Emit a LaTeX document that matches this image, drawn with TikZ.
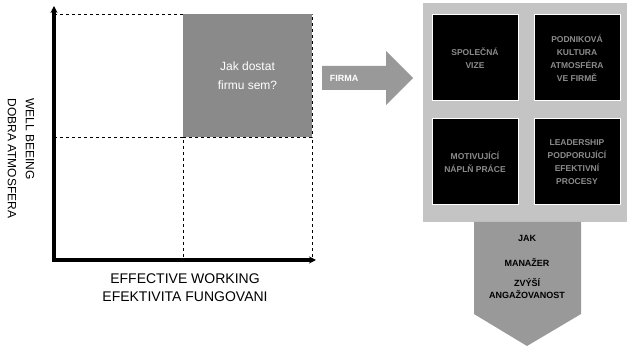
\documentclass[tikz,border=0pt]{standalone}
\usepackage{fontspec}
\setmainfont{Liberation Sans}
\usetikzlibrary{arrows.meta,positioning}
\definecolor{quadgray}{HTML}{8A8A8A}
\definecolor{arrowgray}{HTML}{999999}
\definecolor{bggray}{HTML}{C4C4C4}
\definecolor{boxtxt}{HTML}{8C8C8C}

\begin{document}
\begin{tikzpicture}[x=1pt,y=-1pt,
    cell/.style={draw,dashed,line width=0.6pt,minimum width=129pt,minimum height=123pt,inner sep=0pt},
    blackbox/.style={fill=black,draw=white,line width=1pt,minimum width=86pt,minimum height=86pt,inner sep=2pt,align=center,text=boxtxt,font=\fontsize{8.5}{13}\selectfont\bfseries},
    arrowtxt/.style={inner sep=0pt,font=\fontsize{9}{10}\selectfont\bfseries}]
        \useasboundingbox (0,0) rectangle (627,347);
        \foreach \i in {0,1}{\foreach \j in {0,1}{\node[cell] (c\i\j) at (118.5+\i*129,75.5+\j*123) {};}}
        \node[fill=quadgray,minimum width=129pt,minimum height=123pt,inner sep=0pt,align=center,text=white,font=\fontsize{12}{19}\selectfont] (ask) at (c10) {Jak dostat\\firmu sem?};
        \coordinate (ytip) at (54,6); \coordinate (o) at (54,260); \coordinate (xtip) at (316,260);
        \draw[line width=3.5pt,{Stealth[length=7pt,width=7pt]}-{Stealth[length=7pt,width=7pt]}] (ytip) -- (o) -- (xtip);
        \node[align=left,rotate=-90,anchor=west,font=\fontsize{12}{18}\selectfont] (ylab) at (21,95) {WELL BEEING\\DOBRA ATMOSFERA};
        \node[align=center,font=\fontsize{14}{18}\selectfont] (xlab) at (185,288) {EFFECTIVE WORKING\\EFEKTIVITA FUNGOVANI};
        \fill[arrowgray] (322,66) -- (386,66) -- (386,51) -- (413,78) -- (386,105) -- (386,90) -- (322,90) -- cycle;
        \node[arrowtxt,text=white] (firma) at (344,78) {FIRMA};
        \fill[bggray] (423,3) rectangle (627,222);
        \foreach \nm/\x/\y/\txt in {vize/475/58/{SPOLEČNÁ\\VIZE},kultura/577/58/{PODNIKOVÁ\\KULTURA\\ATMOSFÉRA\\VE FIRMĚ},napln/475/162/{MOTIVUJÍCÍ\\NÁPLŇ PRÁCE},leader/577/162/{LEADERSHIP\\PODPORUJÍCÍ\\EFEKTIVNÍ\\PROCESY}}{\node[blackbox] (\nm) at (\x,\y) {\txt};}
        \fill[arrowgray] (474,222) -- (581,222) -- (581,314) -- (527,346) -- (474,314) -- cycle;
        \foreach \nm/\y/\txt in {jak/238/JAK,manazer/262/MANAŽER,zvysi/283/ZVÝŠÍ,angaz/295/ANGAŽOVANOST}{\node[arrowtxt] (\nm) at (527,\y) {\txt};}
      \end{tikzpicture}
\end{document}
